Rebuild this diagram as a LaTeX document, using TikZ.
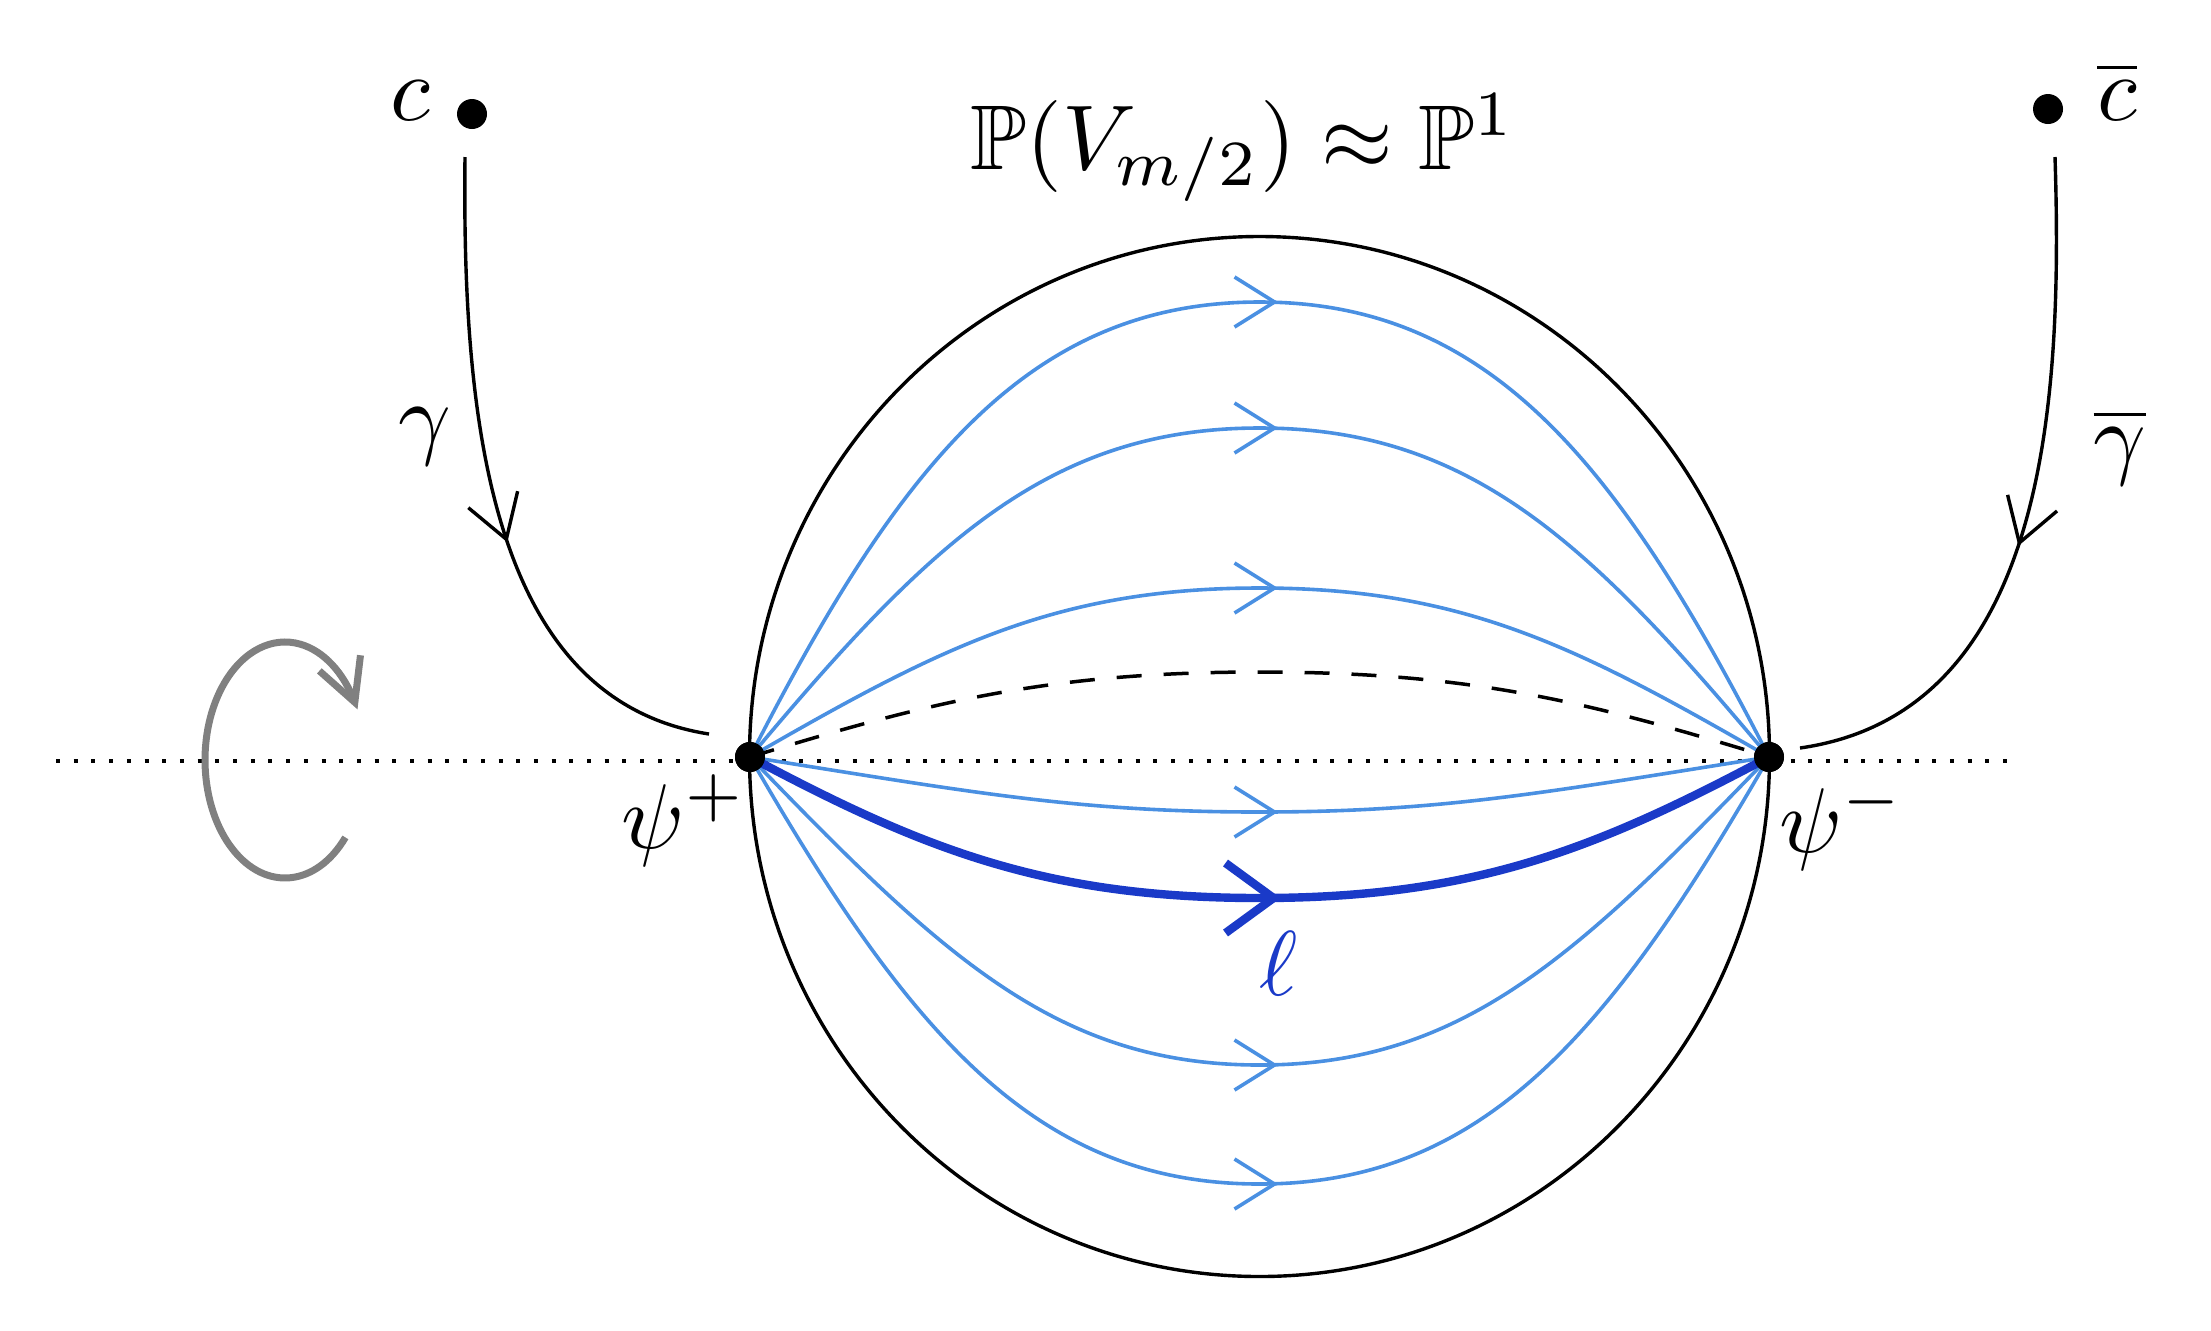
\documentclass[tikz,border=0pt]{standalone}
\usepackage{amssymb}
\usetikzlibrary{decorations.markings,calc}
\definecolor{lblue}{RGB}{74,144,226}
\definecolor{dblue}{RGB}{26,58,200}
\definecolor{rotgray}{RGB}{128,128,128}
\tikzset{
  blackline/.style={line width=1.7pt},
  blueline/.style={draw=lblue,line width=1.8pt},
  thickblue/.style={draw=dblue,line width=4.2pt},
  dashline/.style={line width=1.75pt,dash pattern=on 12.5pt off 11pt},
  dotline/.style={line width=2pt,dash pattern=on 2pt off 6.85pt},
  dotnode/.style={circle,fill=black,inner sep=0pt,minimum size=15pt},
  lab/.style={inner sep=0pt,anchor=base,scale=4.6},
  midarrow/.style={postaction={decorate},decoration={markings,
     mark=at position 0.5 with {\draw[line width=1.8pt,lblue] (-12.5pt,12.5pt)--(7.5pt,0pt)--(-12.5pt,-12.5pt);}}},
  thickarrow/.style={postaction={decorate},decoration={markings,
     mark=at position 0.5 with {\draw[line width=4.2pt,dblue] (-17pt,17.5pt)--(7pt,0pt)--(-17pt,-17.5pt);}}},
  garrow/.style={postaction={decorate},decoration={markings,
     mark=at position #1 with {\draw[line width=1.7pt] (-21pt,13pt)--(0pt,0pt)--(-21pt,-13pt);}}},
  rotarrow/.style={draw=rotgray,line width=3.5pt,postaction={decorate},decoration={markings,
     mark=at position 0.999 with {\draw[line width=3.5pt,rotgray] (-21pt,11pt)--(0pt,0pt)--(-21pt,-11pt);}}},
}
\begin{document}
\begin{tikzpicture}[x=0.5pt,y=-0.5pt]
\useasboundingbox (0,0) rectangle (2211,1330);

% coordinates
\coordinate (ctr) at (1259.5,756.5);
\coordinate (dl) at (56,761);
\coordinate (dr) at (2016,761);
\coordinate (a1) at (1259.5,302);
\coordinate (a2) at (1259.5,428);
\coordinate (a3) at (1259.5,588);
\coordinate (ad) at (1259.5,672);
\coordinate (a4) at (1259.5,812);
\coordinate (at) at (1259.5,898);
\coordinate (a5) at (1259.5,1065);
\coordinate (a6) at (1259.5,1184);
\coordinate (gs) at (465,157);
\coordinate (ge) at (709,734);
\coordinate (hs) at (2055,157);
\coordinate (he) at (1800,748);
\coordinate (rs) at (345.4,837.4);

% dotted axis
\draw[dotline] (dl) -- (dr);

% sphere outline
\draw[blackline] (ctr) ellipse [x radius=510, y radius=520];

% dot positions
\path (750,757) node[dotnode] (pp) {};
\path (1769,757) node[dotnode] (pm) {};

% blue curves
\draw[blueline,midarrow] (pp.center) .. controls +(150,-294) and +(-230,0) .. (a1)
      .. controls +(230,0) and +(-150,-294) .. (pm.center);
\draw[blueline,midarrow] (pp.center) .. controls +(178,-212.5) and +(-212,0) .. (a2)
      .. controls +(212,0) and +(-178,-212.5) .. (pm.center);
\draw[blueline,midarrow] (pp.center) .. controls +(189,-109) and +(-205,0) .. (a3)
      .. controls +(205,0) and +(-189,-109) .. (pm.center);
\draw[dashline] (pp.center) .. controls +(180,-55) and +(-211,0) .. (ad)
      .. controls +(211,0) and +(-180,-55) .. (pm.center);
\draw[blueline,midarrow] (pp.center) .. controls +(224,35.5) and +(-182,0) .. (a4)
      .. controls +(182,0) and +(-224,35.5) .. (pm.center);
\draw[blueline,midarrow] (pp.center) .. controls +(192,199) and +(-203,0) .. (a5)
      .. controls +(203,0) and +(-192,199) .. (pm.center);
\draw[blueline,midarrow] (pp.center) .. controls +(159,276) and +(-224,0) .. (a6)
      .. controls +(224,0) and +(-159,276) .. (pm.center);
\draw[thickblue,thickarrow] (pp.center) .. controls +(171,91) and +(-216,0) .. (at)
      .. controls +(216,0) and +(-171,91) .. (pm.center);

% redraw dots on top
\node[dotnode] at (pp) {};
\node[dotnode] at (pm) {};

% c and cbar
\node[dotnode] (c) at (472,114) {};
\node[dotnode] (cb) at (2048,109) {};
\node[lab] (cl) at (410,120) {$c$};
\node[lab] (cbl) at (2117,120) {$\overline{c}$};

% gamma curves
\draw[blackline,garrow=0.565] (gs) .. controls (462,420) and (490,700) .. (ge);
\draw[blackline,garrow=0.55] (hs) .. controls (2063,407) and (2045,713) .. (he);
\node[lab] (gl) at (425,447) {$\gamma$};
\node[lab] (gbl) at (2120,467) {$\overline{\gamma}$};

% labels
\node[lab] (title) at (1243,169) {$\mathbb{P}(V_{m/2}) \approx \mathbb{P}^1$};
\node[lab] (psip) at (684,848) {$\psi^{+}$};
\node[lab] (psim) at (1842,852) {$\psi^{-}$};
\node[lab,text=dblue] (ell) at (1279,995) {$\ell$};

% rotation arrow
\draw[rotarrow] (rs) arc[start angle=41, end angle=331, x radius=80, y radius=118];
\end{tikzpicture}
\end{document}
